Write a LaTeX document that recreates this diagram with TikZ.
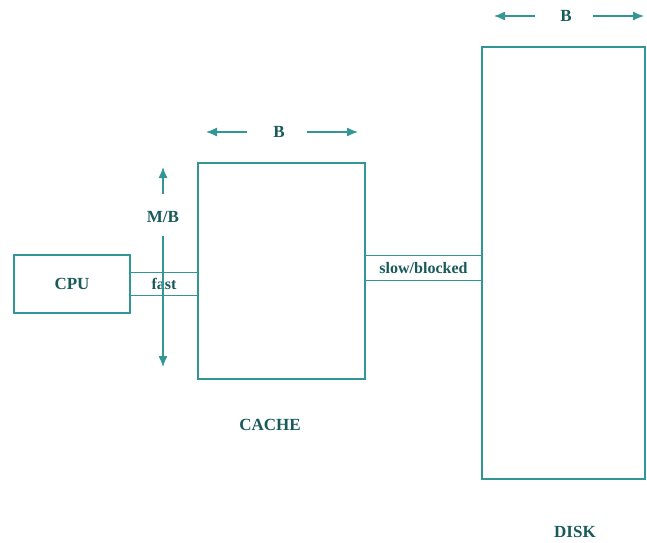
\documentclass[tikz,border=0pt]{standalone}
\usepackage{fontspec}
\setmainfont{Liberation Serif}
\usetikzlibrary{arrows.meta}
\definecolor{MemLine}{RGB}{50,150,150}
\definecolor{MemText}{RGB}{25,90,90}
\tikzset{
  mem box/.style={
    draw=MemLine,
    line width=1.3pt,
    inner sep=0pt,
    font=\fontsize{17}{19}\selectfont\bfseries,
    text=MemText
  },
  mem bus/.style={mem box, font=\fontsize{16}{18}\selectfont\bfseries},
  mem label/.style={font=\fontsize{17}{19}\selectfont\bfseries, text=MemText, inner sep=1pt},
  mem arrow/.style={-{Latex[length=11pt,width=9pt]}, line width=1.3pt, MemLine}
}
\begin{document}
\begin{tikzpicture}[x=1pt,y=-1pt]
\useasboundingbox (0,0) rectangle (647,542);
% boxes
\node[mem box, minimum width=116pt, minimum height=58pt] (cpu) at (72,284) {CPU};
\node[mem box, minimum width=167pt, minimum height=216pt] (cache) at (281.5,271) {};
\node[mem box, minimum width=163pt, minimum height=432pt] (disk) at (563.5,263) {};
\node[mem bus, minimum width=68pt, minimum height=23pt] (fast) at (164,284) {fast};
\node[mem bus, minimum width=117pt, minimum height=25pt] (slow) at (423.5,268) {slow/blocked};
% labels
\node[mem label] (cachelbl) at (270,425) {CACHE};
\node[mem label] (disklbl) at (575,532) {DISK};
\node[mem label] (mb) at (163,217) {M/B};
\node[mem label] (bcache) at (279,132) {B};
\node[mem label] (bdisk) at (566,16) {B};
% dimension arrows
\coordinate (mbtop) at (163,167);
\coordinate (mbbot) at (163,367);
\draw[mem arrow, shorten <=16pt] (mb) -- (mbtop);
\draw[mem arrow, shorten <=12pt] (mb) -- (mbbot);
\coordinate (bcl) at (206,132);
\coordinate (bcr) at (358,132);
\draw[mem arrow, shorten <=25pt] (bcache) -- (bcl);
\draw[mem arrow, shorten <=21pt] (bcache) -- (bcr);
\coordinate (bdl) at (494,16);
\coordinate (bdr) at (644,16);
\draw[mem arrow, shorten <=24pt] (bdisk) -- (bdl);
\draw[mem arrow, shorten <=20pt] (bdisk) -- (bdr);
\end{tikzpicture}
\end{document}
